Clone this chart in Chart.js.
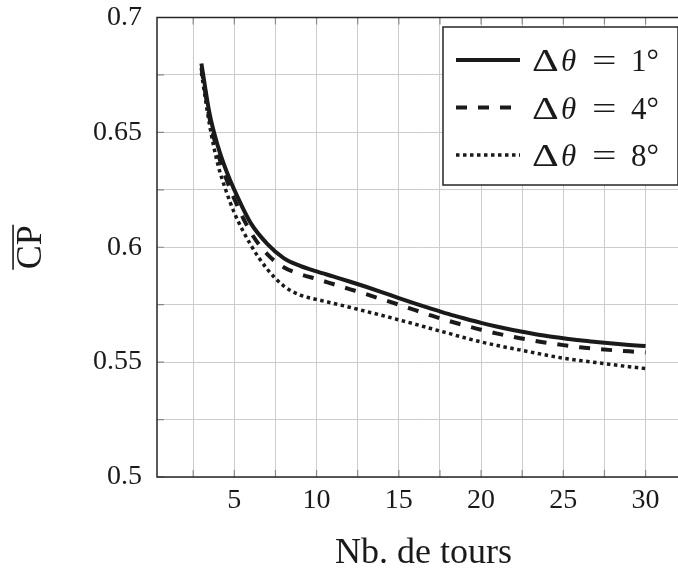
<!DOCTYPE html>
<html><head><meta charset="utf-8">
<script src="https://cdn.jsdelivr.net/npm/chart.js@4.4.0/dist/chart.umd.min.js"></script>
<style>
html,body{margin:0;padding:0;background:#fff;overflow:hidden;width:678px;height:576px}
#wrap{position:absolute;left:0;top:0;width:700px;height:576px}
</style>
</head><body><div id="wrap"><canvas id="c" width="700" height="576"></canvas></div>
<script>
const turns = [3,3.5,4,4.5,5,6,7,8,9,10,11,12,13,14,15,16,17,18,19,20,21,22,23,24,25,26,27,28,29,30];
const cpDelta1 = [0.680,0.658,0.644,0.6335,0.625,0.6105,0.6015,0.5953,0.5919,0.5895,0.5873,0.5851,0.5828,0.5804,0.5779,0.5755,0.5732,0.5710,0.5690,0.5671,0.5654,0.5639,0.5626,0.5614,0.5604,0.5595,0.5588,0.5581,0.5575,0.5570];
const cpDelta4 = [0.678,0.656,0.641,0.630,0.621,0.6065,0.5970,0.5913,0.5883,0.5862,0.5840,0.5818,0.5796,0.5773,0.5750,0.5726,0.5702,0.5680,0.5660,0.5641,0.5624,0.5609,0.5596,0.5584,0.5574,0.5565,0.5558,0.5552,0.5547,0.5542];
const cpDelta8 = [0.676,0.653,0.636,0.6245,0.615,0.601,0.5905,0.5832,0.5792,0.5773,0.5756,0.5739,0.5721,0.5703,0.5684,0.5665,0.5645,0.5626,0.5606,0.5588,0.5572,0.5558,0.5544,0.5530,0.5517,0.5507,0.5498,0.5489,0.5480,0.5472];
const seriesLabels = ['Δθ = 1°','Δθ = 4°','Δθ = 8°'];
const xGridTicks = [2.5,5,7.5,10,12.5,15,17.5,20,22.5,25,27.5,30,32.5];
const xTickLabels = [5,10,15,20,25,30];
const yGridTicks = [0.5,0.525,0.55,0.575,0.6,0.625,0.65,0.675,0.7];
const yTickLabels = [0.5,0.55,0.6,0.65,0.7];

const INK = '#1a1a1a';
const SERIF = "'Liberation Serif', 'Times New Roman', serif";

function mk(label, vals, dash, w) {
  return {
    label: label,
    data: turns.map((t, i) => ({x: t, y: vals[i]})),
    borderColor: INK, backgroundColor: INK,
    borderWidth: w, borderDash: dash, borderCapStyle: 'butt', borderJoinStyle: 'round',
    pointRadius: 0, fill: false, cubicInterpolationMode: 'monotone'
  };
}

const framePlugin = {
  id: 'frame',
  afterDatasetsDraw(chart) {
    const ctx = chart.ctx, ca = chart.chartArea;
    const xs = chart.scales.x, ys = chart.scales.y;
    ctx.save();
    ctx.strokeStyle = '#8a8a8a'; ctx.lineWidth = 1.2;
    ctx.beginPath();
    xGridTicks.forEach(v => {
      const p = xs.getPixelForValue(v);
      ctx.moveTo(p, ca.bottom); ctx.lineTo(p, ca.bottom - 7);
      ctx.moveTo(p, ca.top); ctx.lineTo(p, ca.top + 7);
    });
    yGridTicks.forEach(v => {
      const p = ys.getPixelForValue(v);
      ctx.moveTo(ca.left, p); ctx.lineTo(ca.left + 7, p);
      ctx.moveTo(ca.right, p); ctx.lineTo(ca.right - 7, p);
    });
    ctx.stroke();
    ctx.strokeStyle = '#262626'; ctx.lineWidth = 1.5;
    ctx.strokeRect(ca.left, ca.top, ca.right - ca.left, ca.bottom - ca.top);

    // legend
    const bw = 235, bh = 158;
    const bx = ca.right - 12 - bw, by = ca.top + 9.5;
    ctx.fillStyle = '#fff';
    ctx.fillRect(bx, by, bw, bh);
    ctx.strokeStyle = '#262626'; ctx.lineWidth = 1.5;
    ctx.strokeRect(bx, by, bw, bh);
    chart.data.datasets.forEach((ds, i) => {
      const cy = by + 33 + i * 47.5;
      ctx.save();
      ctx.strokeStyle = ds.borderColor; ctx.lineWidth = ds.borderWidth;
      ctx.setLineDash(ds.borderDash || []);
      ctx.lineCap = 'butt';
      ctx.beginPath(); ctx.moveTo(bx + 13, cy); ctx.lineTo(bx + 77, cy); ctx.stroke();
      ctx.restore();
      const lab = ds.label;
      const eq = lab.indexOf('=');
      const rhs = lab.slice(eq + 1).trim();
      ctx.fillStyle = INK; ctx.textBaseline = 'alphabetic'; ctx.textAlign = 'left';
      const base = cy + 11;
      ctx.font = "32px " + SERIF;
      ctx.save();
      ctx.translate(bx + 89, base); ctx.scale(1.3, 1);
      ctx.fillText(lab[0], 0, 0);
      ctx.restore();
      ctx.font = "italic 31px " + SERIF;
      ctx.fillText(lab[1], bx + 118, base);
      ctx.font = "31px " + SERIF;
      ctx.save();
      ctx.translate(bx + 149, base); ctx.scale(1.4, 1);
      ctx.fillText('=', 0, 0);
      ctx.restore();
      ctx.fillText(rhs, bx + 188, base);
    });

    // overline on the y-axis title
    const t = ys.options.title;
    const fs = t.font.size || 36;
    const titleX = ys.left + (t.padding.top !== undefined ? t.padding.top : 4) + fs * 1.2 / 2;
    ctx.font = fs + "px " + SERIF;
    ctx.textBaseline = 'middle';
    const m = ctx.measureText(t.text);
    const cy = (ca.top + ca.bottom) / 2;
    const ox = titleX - m.actualBoundingBoxAscent - 4;
    ctx.strokeStyle = INK; ctx.lineWidth = 1.6; ctx.setLineDash([]);
    ctx.beginPath();
    ctx.moveTo(ox, cy - m.width / 2 - 0.5); ctx.lineTo(ox, cy + m.width / 2 + 0.5);
    ctx.stroke();
    ctx.restore();
  }
};

new Chart(document.getElementById('c'), {
  type: 'line',
  data: {
    datasets: [
      mk(seriesLabels[0], cpDelta1, [], 4),
      mk(seriesLabels[1], cpDelta4, [11, 11], 4),
      mk(seriesLabels[2], cpDelta8, [3.5, 3.5], 3.5)
    ]
  },
  options: {
    responsive: false, animation: false, devicePixelRatio: 1,
    layout: {padding: {left: 0, right: 10, top: 17.5, bottom: 0}},
    plugins: {legend: {display: false}, tooltip: {enabled: false}},
    scales: {
      x: {
        type: 'linear', min: 0.3, max: 32.7,
        afterBuildTicks: s => { s.ticks = xGridTicks.map(v => ({value: v})); },
        afterFit: s => { s.height = 99; s.paddingLeft = 0; s.paddingRight = 0; },
        grid: {color: '#cccccc', lineWidth: 1, drawTicks: false},
        border: {display: false},
        ticks: {
          padding: 7, autoSkip: false, maxRotation: 0, color: INK,
          font: {family: SERIF, size: 28},
          callback: v => xTickLabels.includes(v) ? String(v) : ''
        },
        title: {display: true, text: 'Nb. de tours', color: INK,
          font: {family: SERIF, size: 36}, padding: {top: 0, bottom: 1}}
      },
      y: {
        type: 'linear', min: 0.5, max: 0.7,
        afterBuildTicks: s => { s.ticks = yGridTicks.map(v => ({value: v})); },
        afterFit: s => { s.width = 157; s.paddingTop = 0; s.paddingBottom = 0; },
        grid: {color: '#cccccc', lineWidth: 1, drawTicks: false},
        border: {display: false},
        ticks: {
          padding: 15, autoSkip: false, color: INK,
          font: {family: SERIF, size: 28},
          callback: v => yTickLabels.some(l => Math.abs(l - v) < 1e-9) ? String(v) : ''
        },
        title: {display: true, text: 'CP', color: INK,
          font: {family: SERIF, size: 36}, padding: {top: 10, bottom: 0}}
      }
    }
  },
  plugins: [framePlugin]
});
</script>
</body></html>
